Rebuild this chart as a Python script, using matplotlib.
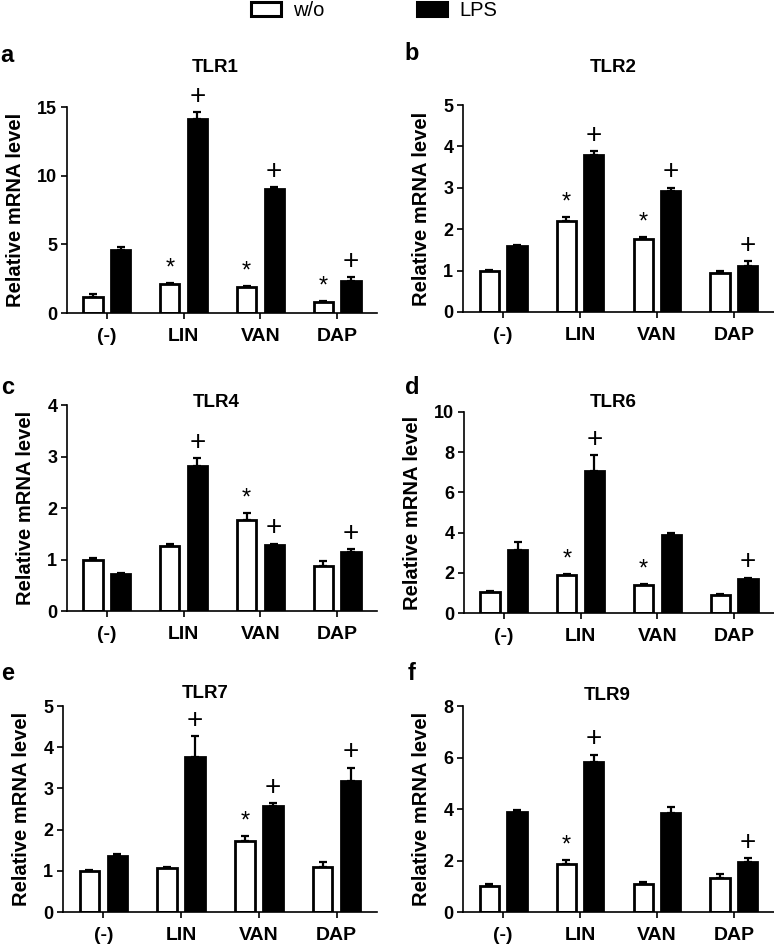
import matplotlib
matplotlib.use("Agg")
import matplotlib.pyplot as plt
from matplotlib.patches import Patch
import numpy as np

plt.rcParams["font.family"] = ["Liberation Sans", "DejaVu Sans"]

categories = ["(-)", "LIN", "VAN", "DAP"]

tlr1_wo = [1.2, 2.1, 1.9, 0.8]
tlr1_wo_err = [0.2, 0.1, 0.1, 0.05]
tlr1_lps = [4.6, 14.1, 9.05, 2.35]
tlr1_lps_err = [0.2, 0.5, 0.1, 0.25]

tlr2_wo = [0.99, 2.2, 1.77, 0.93]
tlr2_wo_err = [0.02, 0.1, 0.04, 0.05]
tlr2_lps = [1.59, 3.79, 2.92, 1.11]
tlr2_lps_err = [0.02, 0.1, 0.08, 0.11]

tlr4_wo = [1.0, 1.26, 1.76, 0.87]
tlr4_wo_err = [0.02, 0.04, 0.14, 0.1]
tlr4_lps = [0.72, 2.81, 1.29, 1.15]
tlr4_lps_err = [0.01, 0.16, 0.02, 0.05]

tlr6_wo = [1.04, 1.9, 1.4, 0.9]
tlr6_wo_err = [0.03, 0.05, 0.06, 0.03]
tlr6_lps = [3.14, 7.06, 3.88, 1.7]
tlr6_lps_err = [0.4, 0.8, 0.1, 0.06]

tlr7_wo = [1.0, 1.06, 1.73, 1.09]
tlr7_wo_err = [0.03, 0.04, 0.12, 0.12]
tlr7_lps = [1.36, 3.77, 2.58, 3.18]
tlr7_lps_err = [0.04, 0.49, 0.06, 0.32]

tlr9_wo = [1.02, 1.88, 1.1, 1.31]
tlr9_wo_err = [0.05, 0.15, 0.06, 0.15]
tlr9_lps = [3.9, 5.81, 3.86, 1.96]
tlr9_lps_err = [0.08, 0.3, 0.22, 0.13]

# which groups carry a significance mark (* on w/o, + on LPS)
tlr1_star, tlr1_plus = [1, 2, 3], [1, 2, 3]
tlr2_star, tlr2_plus = [1, 2], [1, 2, 3]
tlr4_star, tlr4_plus = [2], [1, 2, 3]
tlr6_star, tlr6_plus = [1, 2], [1, 3]
tlr7_star, tlr7_plus = [2], [1, 2, 3]
tlr9_star, tlr9_plus = [1], [1, 3]

W, H = 774, 947


def box(x0, y_top, x1, y_bot):
    return [x0 / W, 1 - y_bot / H, (x1 - x0) / W, (y_bot - y_top) / H]


panels = [
    dict(letter="a", title="TLR1", wo=tlr1_wo, wo_err=tlr1_wo_err, lps=tlr1_lps, lps_err=tlr1_lps_err,
         star=tlr1_star, plus=tlr1_plus, ymax=15, step=5, rect=box(67, 107, 377, 313),
         letter_xy=(7, 55), title_xy=(215, 68)),
    dict(letter="b", title="TLR2", wo=tlr2_wo, wo_err=tlr2_wo_err, lps=tlr2_lps, lps_err=tlr2_lps_err,
         star=tlr2_star, plus=tlr2_plus, ymax=5, step=1, rect=box(463, 105, 774, 312),
         letter_xy=(412, 53), title_xy=(613, 68)),
    dict(letter="c", title="TLR4", wo=tlr4_wo, wo_err=tlr4_wo_err, lps=tlr4_lps, lps_err=tlr4_lps_err,
         star=tlr4_star, plus=tlr4_plus, ymax=4, step=1, rect=box(67, 405, 377, 611),
         letter_xy=(8, 388), title_xy=(216, 402)),
    dict(letter="d", title="TLR6", wo=tlr6_wo, wo_err=tlr6_wo_err, lps=tlr6_lps, lps_err=tlr6_lps_err,
         star=tlr6_star, plus=tlr6_plus, ymax=10, step=2, rect=box(464, 412, 774, 613),
         letter_xy=(412, 387), title_xy=(613, 402)),
    dict(letter="e", title="TLR7", wo=tlr7_wo, wo_err=tlr7_wo_err, lps=tlr7_lps, lps_err=tlr7_lps_err,
         star=tlr7_star, plus=tlr7_plus, ymax=5, step=1, rect=box(63, 706, 377, 912),
         letter_xy=(8, 673), title_xy=(205, 693)),
    dict(letter="f", title="TLR9", wo=tlr9_wo, wo_err=tlr9_wo_err, lps=tlr9_lps, lps_err=tlr9_lps_err,
         star=tlr9_star, plus=tlr9_plus, ymax=8, step=2, rect=box(463, 706, 774, 912),
         letter_xy=(412, 673), title_xy=(607, 695)),
]

fig = plt.figure(figsize=(W / 100, H / 100), dpi=100)

x = np.arange(len(categories))
bw = 0.25
off = 0.18

for p in panels:
    ax = fig.add_axes(p["rect"])
    for vals, errs, xs, color in [(p["wo"], p["wo_err"], x - off, "white"),
                                  (p["lps"], p["lps_err"], x + off, "black")]:
        ax.errorbar(xs, vals, yerr=[np.zeros(len(errs)), errs], fmt="none", ecolor="black",
                    elinewidth=1.6, capsize=3, capthick=1.6, zorder=1)
        ax.bar(xs, vals, width=bw, color=color, edgecolor="black", linewidth=2.0, zorder=2)
    for i in p["star"]:
        top = p["wo"][i] + p["wo_err"][i]
        ax.annotate("*", (x[i] - off, top), xytext=(0, 6), textcoords="offset points",
                    ha="center", va="baseline", fontsize=17, annotation_clip=False)
    for i in p["plus"]:
        top = p["lps"][i] + p["lps_err"][i]
        ax.annotate("+", (x[i] + off, top), xytext=(0, 6), textcoords="offset points",
                    ha="center", va="baseline", fontsize=20, annotation_clip=False)
    ax.set_xlim(-0.52, 3.52)
    ax.set_ylim(0, p["ymax"])
    ax.set_yticks(np.arange(0, p["ymax"] + 0.01, p["step"]))
    ax.set_xticks(x)
    ax.set_xticklabels(categories, fontsize=14, fontweight="bold")
    for lab in ax.get_yticklabels():
        lab.set_fontsize(13)
        lab.set_fontweight("bold")
    ax.tick_params(axis="x", direction="out", length=4, width=1.2, pad=7)
    ax.tick_params(axis="y", direction="out", length=4, width=1.2, pad=3)
    for s in ["top", "right"]:
        ax.spines[s].set_visible(False)
    for s in ["left", "bottom"]:
        ax.spines[s].set_linewidth(1.2)
    ax.set_ylabel("Relative mRNA level", fontsize=14.5, fontweight="bold", labelpad=9)
    fig.text(p["letter_xy"][0] / W, 1 - p["letter_xy"][1] / H, p["letter"], fontsize=17,
             fontweight="bold", ha="center", va="center")
    fig.text(p["title_xy"][0] / W, 1 - p["title_xy"][1] / H, p["title"], fontsize=13.5,
             fontweight="bold", ha="center", va="center")

handles = [Patch(facecolor="white", edgecolor="black", linewidth=2.2),
           Patch(facecolor="black", edgecolor="black", linewidth=2.2)]
fig.legend(handles, ["w/o", "LPS"], loc="upper center", bbox_to_anchor=(0.483, 1.018), ncol=2,
           frameon=False, fontsize=14.5, handlelength=1.5, handleheight=0.75,
           handletextpad=0.6, columnspacing=4.6)

fig.savefig("out.png", dpi=100)
